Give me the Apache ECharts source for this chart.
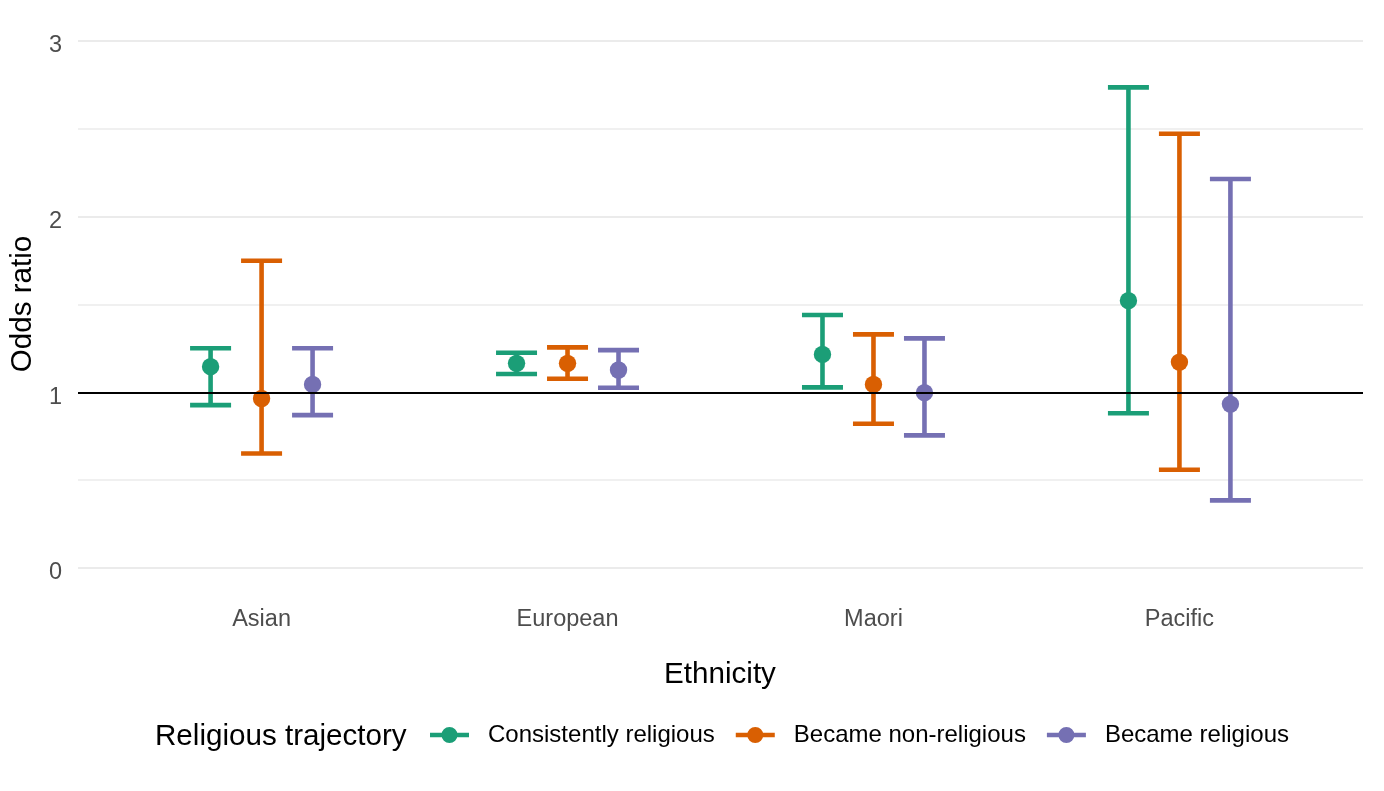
<!DOCTYPE html>
<html>
<head>
<meta charset="utf-8">
<script src="https://cdn.jsdelivr.net/npm/echarts@6/dist/echarts.min.js"></script>
<style>
html,body{margin:0;padding:0;background:#fff;}
#chart{width:1384px;height:791px;}
</style>
</head>
<body>
<div id="chart"></div>
<script>
// ---- Data ----
const categories = ['Asian', 'European', 'Maori', 'Pacific'];
const seriesNames = ['Consistently religious', 'Became non-religious', 'Became religious'];
const seriesColors = ['#1B9E77', '#D95F02', '#7570B3'];
const yTickValues = [0, 1, 2, 3];

// odds ratio estimates per category (Asian, European, Maori, Pacific)
const consistentEst  = [1.146, 1.165, 1.216, 1.522];
const consistentLow  = [0.927, 1.104, 1.028, 0.881];
const consistentHigh = [1.251, 1.225, 1.440, 2.736];

const nonRelEst  = [0.965, 1.165, 1.045, 1.172];
const nonRelLow  = [0.652, 1.077, 0.821, 0.559];
const nonRelHigh = [1.749, 1.256, 1.330, 2.472];

const becameRelEst  = [1.045, 1.127, 0.998, 0.933];
const becameRelLow  = [0.870, 1.026, 0.755, 0.385];
const becameRelHigh = [1.251, 1.240, 1.307, 2.214];

const referenceLine = 1;

// ---- Chart ----
const FONT = "'Liberation Sans', Arial, Helvetica, sans-serif";
const dodge = [-1/6, 0, 1/6];
const groups = [
  [consistentEst, consistentLow, consistentHigh],
  [nonRelEst, nonRelLow, nonRelHigh],
  [becameRelEst, becameRelLow, becameRelHigh]
];

function renderErrorBar(params, api) {
  const x = api.value(0);
  const est = api.value(1), lo = api.value(2), hi = api.value(3);
  const pHi = api.coord([x, hi]);
  const pLo = api.coord([x, lo]);
  const pE = api.coord([x, est]);
  const color = api.visual('color');
  const hw = 20.5;
  const lw = 4.6;
  return {
    type: 'group',
    children: [
      { type: 'line', shape: { x1: pHi[0], y1: pHi[1], x2: pLo[0], y2: pLo[1] }, style: { stroke: color, lineWidth: lw, lineCap: 'butt' } },
      { type: 'line', shape: { x1: pHi[0] - hw, y1: pHi[1], x2: pHi[0] + hw, y2: pHi[1] }, style: { stroke: color, lineWidth: lw, lineCap: 'butt' } },
      { type: 'line', shape: { x1: pLo[0] - hw, y1: pLo[1], x2: pLo[0] + hw, y2: pLo[1] }, style: { stroke: color, lineWidth: lw, lineCap: 'butt' } },
      { type: 'circle', shape: { cx: pE[0], cy: pE[1], r: 8.7 }, style: { fill: color } }
    ]
  };
}

const series = seriesNames.map((name, s) => ({
  name: name,
  type: 'custom',
  z: 3,
  clip: false,
  itemStyle: { color: seriesColors[s] },
  encode: { x: 0, y: [1, 2, 3] },
  renderItem: renderErrorBar,
  data: categories.map((c, i) => [i + 1 + dodge[s], groups[s][0][i], groups[s][1][i], groups[s][2][i]])
}));

series.unshift({
  type: 'line',
  data: [],
  z: 2,
  silent: true,
  markLine: {
    silent: true,
    symbol: ['none', 'none'],
    label: { show: false },
    lineStyle: { color: '#000', width: 2.2, type: 'solid' },
    data: [{ yAxis: referenceLine }],
    animation: false
  }
});

const ICON = 'path://M0,5.75H39V10.25H0Z M11.5,8A8,8 0 1 1 27.5,8A8,8 0 1 1 11.5,8Z';

const option = {
  animation: false,
  backgroundColor: '#fff',
  textStyle: { fontFamily: FONT },
  grid: { left: 78, right: 21, top: 41, bottom: 223, containLabel: false },
  xAxis: {
    type: 'value',
    min: 0.4,
    max: 4.6,
    axisLine: { show: false },
    axisTick: { show: false },
    splitLine: { show: false },
    axisLabel: {
      customValues: [1, 2, 3, 4],
      formatter: v => categories[Math.round(v) - 1] || '',
      color: '#4d4d4d',
      fontSize: 23.5,
      fontFamily: FONT,
      margin: 40
    }
  },
  yAxis: {
    type: 'value',
    min: 0,
    max: 3,
    interval: 1,
    axisLine: { show: false },
    axisTick: { show: false },
    axisLabel: {
      color: '#4d4d4d',
      fontSize: 23.5,
      fontFamily: FONT,
      margin: 16,
      formatter: v => (yTickValues.indexOf(v) >= 0 ? '{v|' + v + '}' : ''),
      rich: { v: { color: '#4d4d4d', fontSize: 23.5, fontFamily: FONT, padding: [10, 0, 0, 0] } }
    },
    splitLine: { show: true, lineStyle: { color: '#ebebeb', width: 2 } },
    minorTick: { show: false, splitNumber: 2 },
    minorSplitLine: { show: true, lineStyle: { color: '#ebebeb', width: 1.6 } }
  },
  legend: {
    left: 425,
    top: 718,
    padding: 5,
    orient: 'horizontal',
    itemWidth: 39,
    itemHeight: 16,
    itemGap: 21,
    data: seriesNames.map(n => ({ name: n, icon: ICON })),
    formatter: n => '{t|' + n + '}',
    textStyle: {
      color: '#000',
      fontSize: 24,
      fontFamily: FONT,
      rich: { t: { fontSize: 24, fontFamily: FONT, color: '#000', padding: [0, 0, 0, 14] } }
    },
    selectedMode: false
  },
  graphic: [
    {
      type: 'text',
      x: 720,
      y: 675,
      style: { text: 'Ethnicity', fontSize: 29.6, fontFamily: FONT, fill: '#000', align: 'center', verticalAlign: 'middle' }
    },
    {
      type: 'text',
      x: 23,
      y: 304,
      rotation: Math.PI / 2,
      style: { text: 'Odds ratio', fontSize: 29.6, fontFamily: FONT, fill: '#000', align: 'center', verticalAlign: 'middle' }
    },
    {
      type: 'text',
      x: 155,
      y: 737,
      style: { text: 'Religious trajectory', fontSize: 29.6, fontFamily: FONT, fill: '#000', align: 'left', verticalAlign: 'middle' }
    }
  ],
  series: series
};

const chart = echarts.init(document.getElementById('chart'), null, { renderer: 'canvas' });
chart.setOption(option);
</script>
</body>
</html>
